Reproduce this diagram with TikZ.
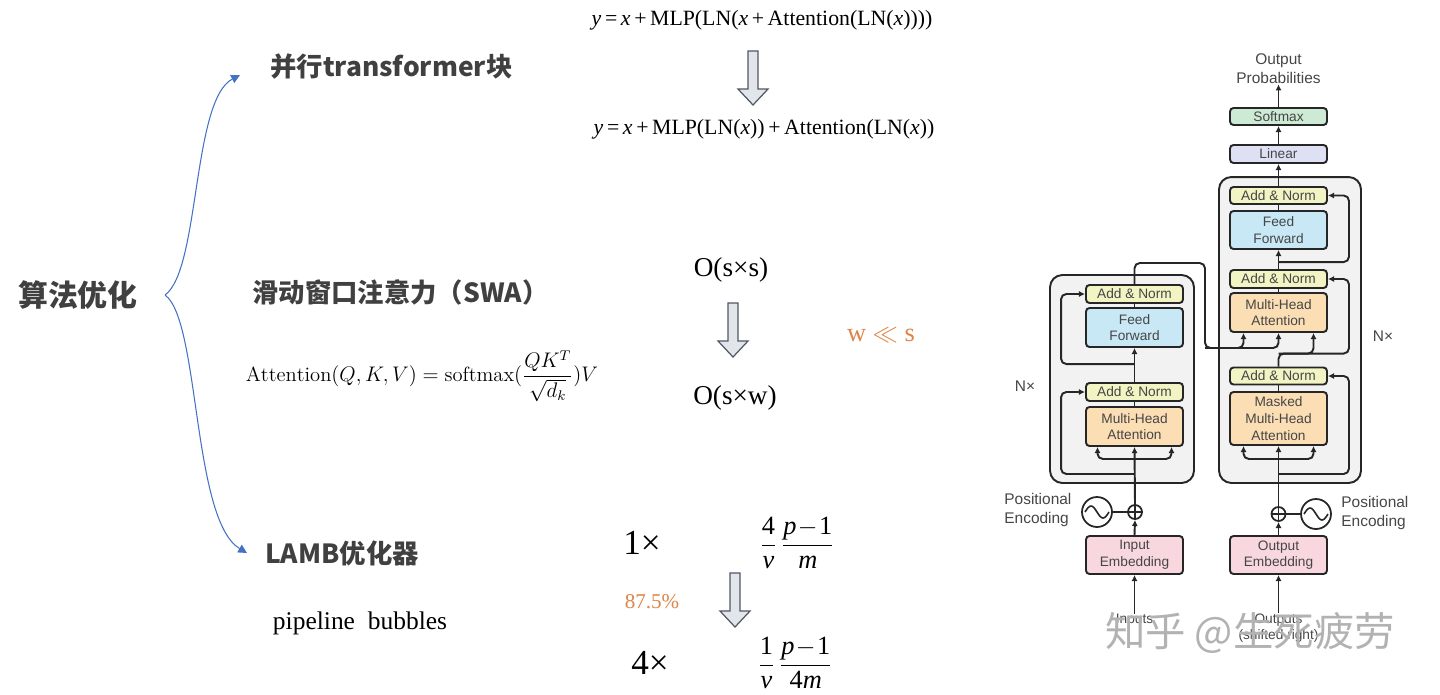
\documentclass[tikz,border=0pt]{standalone}
\usepackage{fontspec}
\usepackage{amsmath}
\usetikzlibrary{arrows.meta, positioning, calc}
\newfontfamily\cjk{Noto Sans CJK SC}
\newfontfamily\timesf{Liberation Serif}
\newfontfamily\helv{Liberation Sans}
\definecolor{headgray}{RGB}{64,64,64}
\definecolor{bracecolor}{RGB}{68,114,196}
\definecolor{notecolor}{RGB}{222,132,70}
\definecolor{arrowfill}{RGB}{226,229,234}
\definecolor{arrowline}{RGB}{80,88,100}
\definecolor{normcolor}{RGB}{242,244,196}
\definecolor{ffcolor}{RGB}{200,232,246}
\definecolor{attcolor}{RGB}{252,222,180}
\definecolor{embcolor}{RGB}{248,216,222}
\definecolor{lincolor}{RGB}{222,224,244}
\definecolor{smcolor}{RGB}{204,234,212}
\definecolor{stackcolor}{RGB}{242,242,242}
\definecolor{tfgray}{RGB}{70,70,70}
\tikzset{
    mainhead/.style={font=\cjk\bfseries\fontsize{17}{20}\selectfont, text=headgray, inner sep=0},
    heading/.style={font=\cjk\bfseries\fontsize{15}{18}\selectfont, text=headgray, anchor=west, inner sep=0},
    formula/.style={font=\timesf\fontsize{12.4}{14}\selectfont, inner sep=0},
    cplx/.style={font=\timesf\fontsize{15.5}{18}\selectfont, inner sep=0},
    note/.style={font=\timesf\fontsize{15}{18}\selectfont, text=notecolor, inner sep=0},
    branch/.style={draw=bracecolor, line width=0.6pt, -{Triangle[length=5pt, width=5pt]}},
    tfbox/.style={rectangle, draw=black!85, line width=1.1pt, rounded corners=2pt,
        minimum width=1.94cm, align=center, inner sep=0,
        font=\helv\fontsize{7.8}{9.5}\selectfont, text=tfgray},
    tftext/.style={font=\helv\fontsize{8.8}{10.8}\selectfont, text=tfgray, inner sep=0},
    stack/.style={rectangle, draw=black!85, line width=1.1pt, rounded corners=7pt, fill=stackcolor},
    tfarrow/.style={-{Latex[length=3.5pt, width=3.5pt]}, line width=1.1pt, black!85, rounded corners=3pt},
    tfline/.style={line width=1.1pt, black!85, rounded corners=3pt},
    hollow/.pic={\draw[fill=arrowfill, draw=arrowline, line width=0.7pt]
        (-5,0) -- (-5,38) -- (-15,38) -- (0,54) -- (15,38) -- (5,38) -- (5,0) -- cycle;}
}

\begin{document}
\begin{tikzpicture}[x=0.02cm, y=-0.02cm]
    \useasboundingbox (0,0) rectangle (1440,694);

    % topics
    \node[mainhead] (algo) at (78,295) {算法优化};
    \node[heading] (ptb) at (270,67) {并行transformer块};
    \node[heading] (swa) at (252,292) {滑动窗口注意力（SWA）};
    \node[heading] (lamb) at (265,553) {LAMB优化器};
    \coordinate (fork) at (165,295);
    \draw[branch] (fork) .. controls (200,270) and (192,100) .. ($(ptb.west)+(-30,8)$);
    \draw[branch] (fork) .. controls (200,320) and (192,520) .. ($(lamb.west)+(-18,0)$);

    % parallel block
    \node[formula] (eqold) at (762,20) {{\itshape y}\,=\,{\itshape x}\,+\,MLP(LN({\itshape x}\,+\,Attention(LN({\itshape x}))))};
    \pic (arrpar) at (753,51) {hollow};
    \node[formula] (eqnew) at (764,129) {{\itshape y}\,=\,{\itshape x}\,+\,MLP(LN({\itshape x}))\,+\,Attention(LN({\itshape x}))};

    % sliding window
    \node[font=\fontsize{11.7}{14}\selectfont, inner sep=0] (attn) at (422,376) {$\mathrm{Attention}(Q,K,V)=\mathrm{softmax}(\dfrac{QK^T}{\sqrt{d_k}})V$};
    \node[cplx] (full) at (731,270) {O(s×s)};
    \pic (arrswa) at (733,303) {hollow};
    \node[cplx] (window) at (735,398) {O(s×w)};
    \node[note] (wlls) at (881,335) {w $\ll$ s};

    % pipeline bubbles
    \node[font=\timesf\fontsize{14.5}{17}\selectfont, inner sep=0] (bubble) at (360,623) {pipeline\ \ bubbles};
    \node[font=\timesf\fontsize{20}{24}\selectfont, inner sep=0] (onex) at (642,543) {1×};
    \node[font=\timesf\fontsize{15}{18}\selectfont, inner sep=0] (fracone) at (797,543) {$\dfrac{\text{4}}{\text{\itshape v}}\,\dfrac{\text{\itshape p}\!-\!\text{1}}{\text{\itshape m}}$};
    \node[note, font=\timesf\fontsize{12}{14}\selectfont] (ratio) at (652,602) {87.5\%};
    \pic (arrpipe) at (735,573) {hollow};
    \node[font=\timesf\fontsize{20}{24}\selectfont, inner sep=0] (fourx) at (650,663) {4×};
    \node[font=\timesf\fontsize{15}{18}\selectfont, inner sep=0] (fracfour) at (795,663) {$\dfrac{\text{1}}{\text{\itshape v}}\,\dfrac{\text{\itshape p}\!-\!\text{1}}{\text{4\itshape m}}$};

    % transformer
    \node[stack, minimum width=2.88cm, minimum height=4.16cm] (encstack) at (1122,379) {};
    \node[stack, minimum width=2.84cm, minimum height=6.12cm] (decstack) at (1290,330) {};

    \node[tfbox, fill=normcolor, minimum height=0.36cm] (encnorm2) at (1134.5,294) {Add \& Norm};
    \node[tfbox, fill=ffcolor, minimum height=0.78cm] (encff) at (1134.5,327.5) {Feed\\Forward};
    \node[tfbox, fill=normcolor, minimum height=0.36cm] (encnorm1) at (1134.5,392) {Add \& Norm};
    \node[tfbox, fill=attcolor, minimum height=0.78cm] (encmha) at (1134.5,426.5) {Multi-Head\\Attention};
    \node[tfbox, fill=embcolor, minimum height=0.76cm] (inemb) at (1134.5,555) {Input\\Embedding};

    \node[tfbox, fill=smcolor, minimum height=0.34cm] (softmax) at (1278.5,116.5) {Softmax};
    \node[tfbox, fill=lincolor, minimum height=0.36cm] (linear) at (1278.5,154) {Linear};
    \node[tfbox, fill=normcolor, minimum height=0.34cm] (decnorm3) at (1278.5,195.5) {Add \& Norm};
    \node[tfbox, fill=ffcolor, minimum height=0.76cm] (decff) at (1278.5,230) {Feed\\Forward};
    \node[tfbox, fill=normcolor, minimum height=0.36cm] (decnorm2) at (1278.5,279) {Add \& Norm};
    \node[tfbox, fill=attcolor, minimum height=0.78cm] (decmha) at (1278.5,312.5) {Multi-Head\\Attention};
    \node[tfbox, fill=normcolor, minimum height=0.34cm] (decnorm1) at (1278.5,376) {Add \& Norm};
    \node[tfbox, fill=attcolor, minimum height=1.06cm] (decmmha) at (1278.5,418.5) {Masked\\Multi-Head\\Attention};
    \node[tfbox, fill=embcolor, minimum height=0.76cm] (outemb) at (1278.5,555) {Output\\Embedding};

    \node[tftext, align=center] (outprob) at (1278.5,69) {Output\\Probabilities};
    \node[tftext] (encn) at (1025,386) {N×};
    \node[tftext] (decn) at (1383,336) {N×};
    \node[tftext, align=left, anchor=west] (encpos) at (1004,510) {Positional\\Encoding};
    \node[tftext, align=left, anchor=west] (decpos) at (1341,513) {Positional\\Encoding};
    \node[tftext, font=\helv\fontsize{7.8}{9.5}\selectfont] (inputs) at (1134.5,620) {Inputs};
    \node[tftext, align=center, font=\helv\fontsize{7.8}{9.5}\selectfont] (outputs) at (1278.5,628) {Outputs\\(shifted right)};

    \node[circle, draw=black!85, line width=1pt, minimum size=0.6cm, inner sep=0] (encsine) at (1097,512) {};
    \node[circle, draw=black!85, line width=1pt, minimum size=0.28cm, inner sep=0] (encplus) at (1135,512) {};
    \node[circle, draw=black!85, line width=1pt, minimum size=0.6cm, inner sep=0] (decsine) at (1316,514) {};
    \node[circle, draw=black!85, line width=1pt, minimum size=0.28cm, inner sep=0] (decplus) at (1278.5,514) {};
    \foreach \s in {encsine, decsine}
        \draw[line width=0.9pt, black!85] ($(\s.center)+(-12,0)$) sin +(6,-6) cos +(6,6) sin +(6,6) cos +(6,-6);
    \foreach \p in {encplus, decplus} {
        \draw[line width=0.8pt, black!85] (\p.north) -- (\p.south);
        \draw[line width=0.8pt, black!85] (\p.west) -- (\p.east);
    }

    % encoder wiring
    \draw[tfarrow] (inputs.north) -- (inemb.south);
    \draw[tfarrow] (inemb.north) -- (encplus.south);
    \draw[tfline] (encsine.east) -- (encplus.west);
    \draw[tfarrow] (encplus.north) -- (encmha.south);
    \draw[tfarrow] ($(encmha.south)+(0,12)$) -| ($(encmha.south)+(-37,0)$);
    \draw[tfarrow] ($(encmha.south)+(0,12)$) -| ($(encmha.south)+(37,0)$);
    \draw[tfarrow] ($(encmha.south)+(0,27)$) -| ($(encnorm1.west)+(-24,0)$) -- (encnorm1.west);
    \draw[tfline] (encmha.north) -- (encnorm1.south);
    \draw[tfarrow] (encnorm1.north) -- (encff.south);
    \draw[tfarrow] ($(encnorm1.north)+(0,-18)$) -| ($(encnorm2.west)+(-24,0)$) -- (encnorm2.west);
    \draw[tfline] (encff.north) -- (encnorm2.south);
    \coordinate (memory) at (1205,348);
    \draw[tfarrow] (encnorm2.north) |- ($(memory)+(0,-85)$) -- (memory) -| ($(decmha.south)+(-35,0)$);
    \draw[tfarrow] (memory) -| (decmha.south);

    % decoder wiring
    \draw[tfarrow] (outputs.north) -- (outemb.south);
    \draw[tfarrow] (outemb.north) -- (decplus.south);
    \draw[tfline] (decsine.west) -- (decplus.east);
    \draw[tfarrow] (decplus.north) -- (decmmha.south);
    \draw[tfarrow] ($(decmmha.south)+(0,13)$) -| ($(decmmha.south)+(-35,0)$);
    \draw[tfarrow] ($(decmmha.south)+(0,13)$) -| ($(decmmha.south)+(35,0)$);
    \draw[tfarrow] ($(decmmha.south)+(0,28)$) -| ($(decnorm1.east)+(21,0)$) -- (decnorm1.east);
    \draw[tfline] (decmmha.north) -- (decnorm1.south);
    \draw[tfarrow] (decnorm1.north) -- ++(0,-13) -| ($(decmha.south)+(35,0)$);
    \draw[tfarrow] ($(decnorm1.north)+(0,-13)$) -| ($(decnorm2.east)+(21,0)$) -- (decnorm2.east);
    \draw[tfline] (decmha.north) -- (decnorm2.south);
    \draw[tfarrow] (decnorm2.north) -- (decff.south);
    \draw[tfarrow] ($(decnorm2.north)+(0,-7)$) -| ($(decnorm3.east)+(21,0)$) -- (decnorm3.east);
    \draw[tfline] (decff.north) -- (decnorm3.south);
    \draw[tfarrow] (decnorm3.north) -- (linear.south);
    \draw[tfarrow] (linear.north) -- (softmax.south);
    \draw[tfarrow] (softmax.north) -- (outprob.south);

    \node[font=\cjk\fontsize{23}{26}\selectfont, text=black!30, inner sep=0] (mark) at (1250,633) {知乎 @生死疲劳};

\end{tikzpicture}
\end{document}
